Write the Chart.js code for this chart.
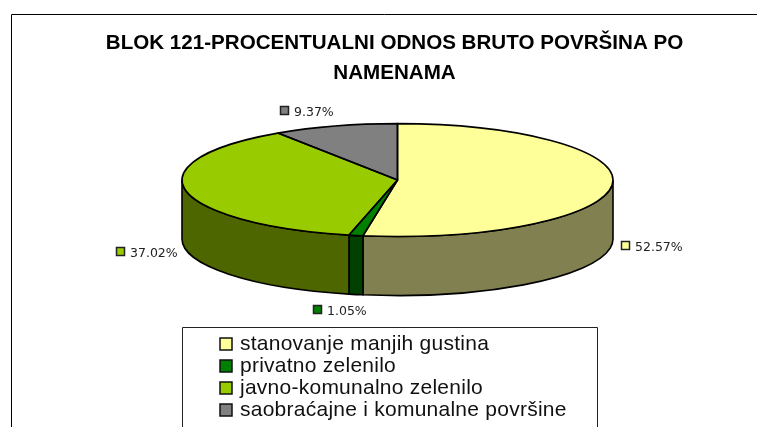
<!DOCTYPE html>
<html>
<head>
<meta charset="utf-8">
<style>
  html, body { margin: 0; padding: 0; background: #fff; }
  canvas { display: block; }
</style>
<script src="https://cdn.jsdelivr.net/npm/chart.js@4"></script>
</head>
<body>
<canvas id="chart" width="757" height="427"></canvas>
<script>
const titleLines = ["BLOK 121-PROCENTUALNI ODNOS BRUTO POVRŠINA PO", "NAMENAMA"];
const categories = ["stanovanje manjih gustina", "privatno zelenilo", "javno-komunalno zelenilo", "saobraćajne i komunalne površine"];
const shares = [52.57, 1.05, 37.02, 9.37];
const topColors = ["#FFFF99", "#008000", "#99CC00", "#808080"];
const sideColors = ["#808050", "#004000", "#4D6600", "#404040"];

// look of the tilted pie
const SQUASH = 0.262;
const DEPTH = 59;
const RADIUS = 215.5;

// pct label key position per slice (x, y of the small square)
const labelSpots = [[621, 241], [313, 305], [116, 247], [280, 106]];

function arcsOf(chart) {
  return chart.getDatasetMeta(0).data;
}

function sidePath(ctx, a, from, to) {
  const ry = a.outerRadius * SQUASH;
  ctx.beginPath();
  ctx.ellipse(a.x, a.y, a.outerRadius, ry, 0, from, to);
  ctx.ellipse(a.x, a.y + DEPTH, a.outerRadius, ry, 0, to, from, true);
  ctx.closePath();
}

const tiltedPie = {
  id: "tiltedPie",
  afterLayout(chart) {
    // title sits a bit left of the pie centre in the original
    chart.titleBlock.left -= 3;
    chart.titleBlock.right -= 3;
  },
  beforeDraw(chart) {
    // outer frame, only top and left are inside the crop
    const ctx = chart.ctx;
    ctx.save();
    ctx.strokeStyle = "#000";
    ctx.lineWidth = 1;
    ctx.beginPath();
    ctx.moveTo(11.5, 427);
    ctx.lineTo(11.5, 14.5);
    ctx.lineTo(757, 14.5);
    ctx.stroke();
    ctx.restore();
  },
  beforeDatasetsDraw(chart) {
    const ctx = chart.ctx;
    // front wall first
    ctx.save();
    ctx.lineWidth = 1.6;
    ctx.strokeStyle = "#000";
    arcsOf(chart).forEach((a, i) => {
      const from = Math.max(a.startAngle, 0);
      const to = Math.min(a.endAngle, Math.PI);
      if (to <= from) return;
      sidePath(ctx, a, from, to);
      ctx.fillStyle = sideColors[i];
      ctx.fill();
      ctx.stroke();
    });
    ctx.restore();
    // squash the library's slices into an ellipse
    const first = arcsOf(chart)[0];
    ctx.save();
    ctx.translate(first.x, first.y);
    ctx.scale(1, SQUASH);
    ctx.translate(-first.x, -first.y);
  },
  afterDatasetsDraw(chart) {
    const ctx = chart.ctx;
    ctx.restore();
    ctx.save();
    ctx.lineWidth = 1.6;
    ctx.strokeStyle = "#000";
    ctx.lineJoin = "round";
    arcsOf(chart).forEach((a) => {
      ctx.beginPath();
      ctx.moveTo(a.x, a.y);
      ctx.ellipse(a.x, a.y, a.outerRadius, a.outerRadius * SQUASH, 0, a.startAngle, a.endAngle);
      ctx.closePath();
      ctx.stroke();
    });
    ctx.restore();
    drawPctLabels(chart);
    drawLegendBox(chart);
  },
};

function drawPctLabels(chart) {
  const ctx = chart.ctx;
  ctx.save();
  ctx.font = "12.5px 'DejaVu Sans'";
  ctx.textBaseline = "middle";
  ctx.textAlign = "left";
  shares.forEach((v, i) => {
    const [x, y] = labelSpots[i];
    ctx.fillStyle = topColors[i];
    ctx.strokeStyle = "#222";
    ctx.lineWidth = 1.5;
    ctx.fillRect(x + 0.5, y + 0.5, 8, 8);
    ctx.strokeRect(x + 0.5, y + 0.5, 8, 8);
    ctx.fillStyle = "#222";
    ctx.fillText(v.toFixed(2) + "%", x + 14, y + 6.5);
  });
  ctx.restore();
}

function drawLegendBox(chart) {
  const ctx = chart.ctx;
  ctx.save();
  ctx.strokeStyle = "#222";
  ctx.lineWidth = 1;
  ctx.beginPath();
  ctx.moveTo(182.5, 427);
  ctx.lineTo(182.5, 327.5);
  ctx.lineTo(597.5, 327.5);
  ctx.lineTo(597.5, 427);
  ctx.stroke();
  ctx.font = "21px 'Liberation Sans'";
  ctx.letterSpacing = "0.25px";
  ctx.textBaseline = "middle";
  ctx.textAlign = "left";
  categories.forEach((name, i) => {
    const y = 344 + i * 22;
    ctx.fillStyle = topColors[i];
    ctx.strokeStyle = "#111";
    ctx.lineWidth = 1.5;
    ctx.fillRect(220, y - 6, 12, 12);
    ctx.strokeRect(220, y - 6, 12, 12);
    ctx.fillStyle = "#111";
    ctx.fillText(name, 240, y);
  });
  ctx.restore();
}

new Chart(document.getElementById("chart"), {
  type: "pie",
  data: {
    labels: categories,
    datasets: [{
      data: shares,
      backgroundColor: topColors,
      borderWidth: 0,
      radius: RADIUS,
    }],
  },
  options: {
    responsive: false,
    animation: false,
    layout: { padding: { left: 38, right: 0, top: 0, bottom: 155 } },
    plugins: {
      legend: { display: false },
      tooltip: { enabled: false },
      title: {
        display: true,
        text: titleLines,
        color: "#000",
        font: { family: "'Liberation Sans'", size: 20.6, weight: "bold", lineHeight: 1.46 },
        padding: { top: 28, bottom: 0 },
      },
    },
  },
  plugins: [tiltedPie],
});
</script>
</body>
</html>
